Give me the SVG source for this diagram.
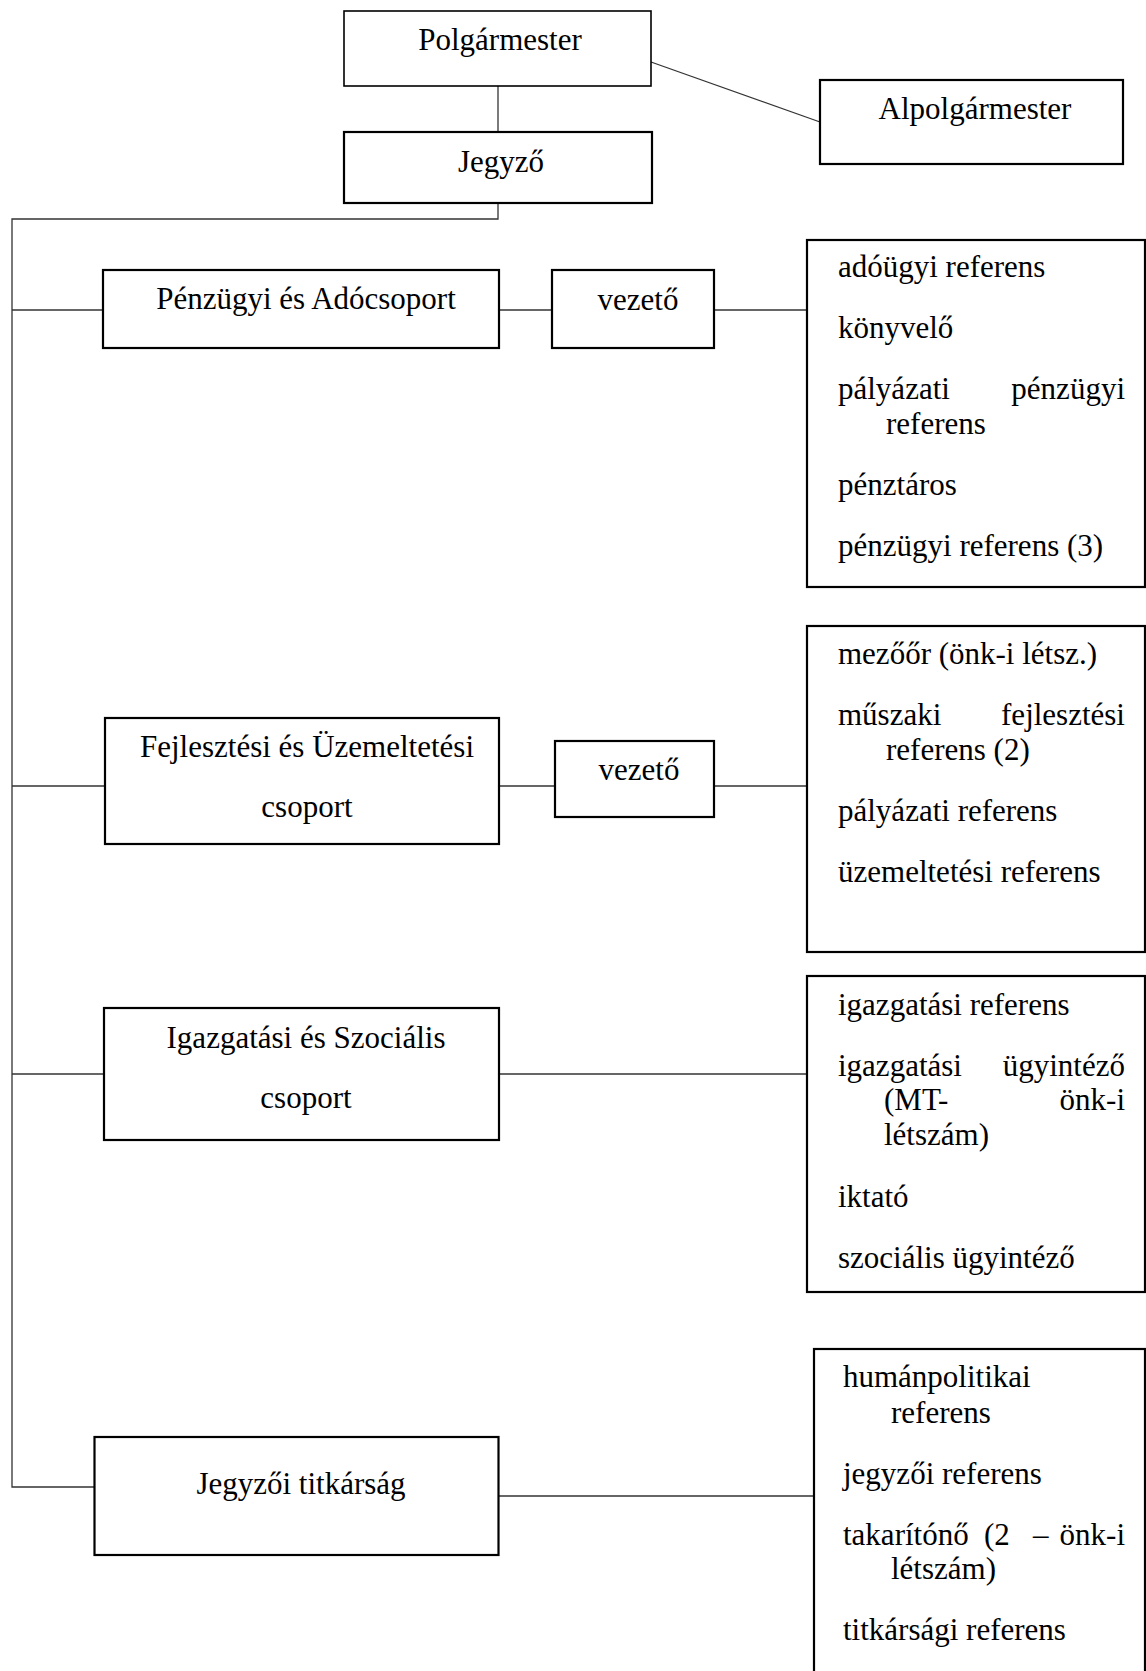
<svg xmlns="http://www.w3.org/2000/svg" width="1146" height="1671" viewBox="0 0 1146 1671">
<style>
.box{fill:#fff;stroke:#000;stroke-width:2.2}
.c{fill:none;stroke:#333;stroke-width:1.3}
text{font-family:"Liberation Serif","Times New Roman",serif;font-size:31px;fill:#000}
.m{text-anchor:middle}
.e{text-anchor:end}
</style>
<rect width="1146" height="1671" fill="#fff"/>
<g id="connectors">
<line class="c" x1="498" y1="86" x2="498" y2="132"/>
<line class="c" x1="651" y1="62" x2="820" y2="122"/>
<path class="c" d="M498,203 V219 H12 V1487 H94.5"/>
<line class="c" x1="12" y1="310" x2="103" y2="310"/>
<line class="c" x1="499" y1="310" x2="552" y2="310"/>
<line class="c" x1="714" y1="310" x2="807" y2="310"/>
<line class="c" x1="12" y1="786" x2="105" y2="786"/>
<line class="c" x1="499" y1="786" x2="555" y2="786"/>
<line class="c" x1="714" y1="786" x2="807" y2="786"/>
<line class="c" x1="12" y1="1074" x2="104" y2="1074"/>
<line class="c" x1="499" y1="1074" x2="807" y2="1074"/>
<line class="c" x1="499" y1="1496" x2="814" y2="1496"/>
</g>
<g id="polgarmester">
<rect class="box" x="344" y="11" width="307" height="75" style="stroke-width:1.6"/>
<text class="m" x="500" y="50">Polgármester</text>
</g>
<g id="alpolgarmester">
<rect class="box" x="820" y="80" width="303" height="84"/>
<text class="m" x="975" y="119">Alpolgármester</text>
</g>
<g id="jegyzo">
<rect class="box" x="344" y="132" width="308" height="71"/>
<text class="m" x="501" y="172">Jegyző</text>
</g>
<g id="penzugyi">
<rect class="box" x="103" y="270" width="396" height="78"/>
<text class="m" x="306" y="309">Pénzügyi és Adócsoport</text>
</g>
<g id="vezeto1">
<rect class="box" x="552" y="270" width="162" height="78"/>
<text class="m" x="638" y="310">vezető</text>
</g>
<g id="lista1">
<rect class="box" x="807" y="240" width="338" height="347"/>
<text x="838" y="277">adóügyi referens</text>
<text x="838" y="338">könyvelő</text>
<text x="838" y="399">pályázati</text>
<text class="e" x="1125" y="399">pénzügyi</text>
<text x="886" y="434">referens</text>
<text x="838" y="495">pénztáros</text>
<text x="838" y="556">pénzügyi referens (3)</text>
</g>
<g id="fejlesztesi">
<rect class="box" x="105" y="718" width="394" height="126"/>
<text class="m" x="307" y="757">Fejlesztési és Üzemeltetési</text>
<text class="m" x="307" y="817">csoport</text>
</g>
<g id="vezeto2">
<rect class="box" x="555" y="741" width="159" height="76"/>
<text class="m" x="639" y="780">vezető</text>
</g>
<g id="lista2">
<rect class="box" x="807" y="626" width="338" height="326"/>
<text x="838" y="664">mezőőr (önk-i létsz.)</text>
<text x="838" y="725">műszaki</text>
<text class="e" x="1125" y="725">fejlesztési</text>
<text x="886" y="760">referens (2)</text>
<text x="838" y="821">pályázati referens</text>
<text x="838" y="882">üzemeltetési referens</text>
</g>
<g id="igazgatasi">
<rect class="box" x="104" y="1008" width="395" height="132"/>
<text class="m" x="306" y="1048">Igazgatási és Szociális</text>
<text class="m" x="306" y="1108">csoport</text>
</g>
<g id="lista3">
<rect class="box" x="807" y="976" width="338" height="316"/>
<text x="838" y="1015">igazgatási referens</text>
<text x="838" y="1076">igazgatási</text>
<text class="e" x="1125" y="1076">ügyintéző</text>
<text x="884" y="1110">(MT-</text>
<text class="e" x="1125" y="1110">önk-i</text>
<text x="884" y="1145">létszám)</text>
<text x="838" y="1207">iktató</text>
<text x="838" y="1268">szociális ügyintéző</text>
</g>
<g id="jegyzoi-titkarsag">
<rect class="box" x="94.5" y="1437" width="404" height="118"/>
<text class="m" x="301" y="1494">Jegyzői titkárság</text>
</g>
<g id="lista4">
<rect class="box" x="814" y="1349" width="331" height="340"/>
<text x="843" y="1387">humánpolitikai</text>
<text x="891" y="1423">referens</text>
<text x="843" y="1484">jegyzői referens</text>
<text x="843" y="1545">takarítónő</text>
<text x="984" y="1545">(2</text>
<text x="1033" y="1545">–</text>
<text class="e" x="1125" y="1545">önk-i</text>
<text x="891" y="1579">létszám)</text>
<text x="843" y="1640">titkársági referens</text>
</g>
</svg>
